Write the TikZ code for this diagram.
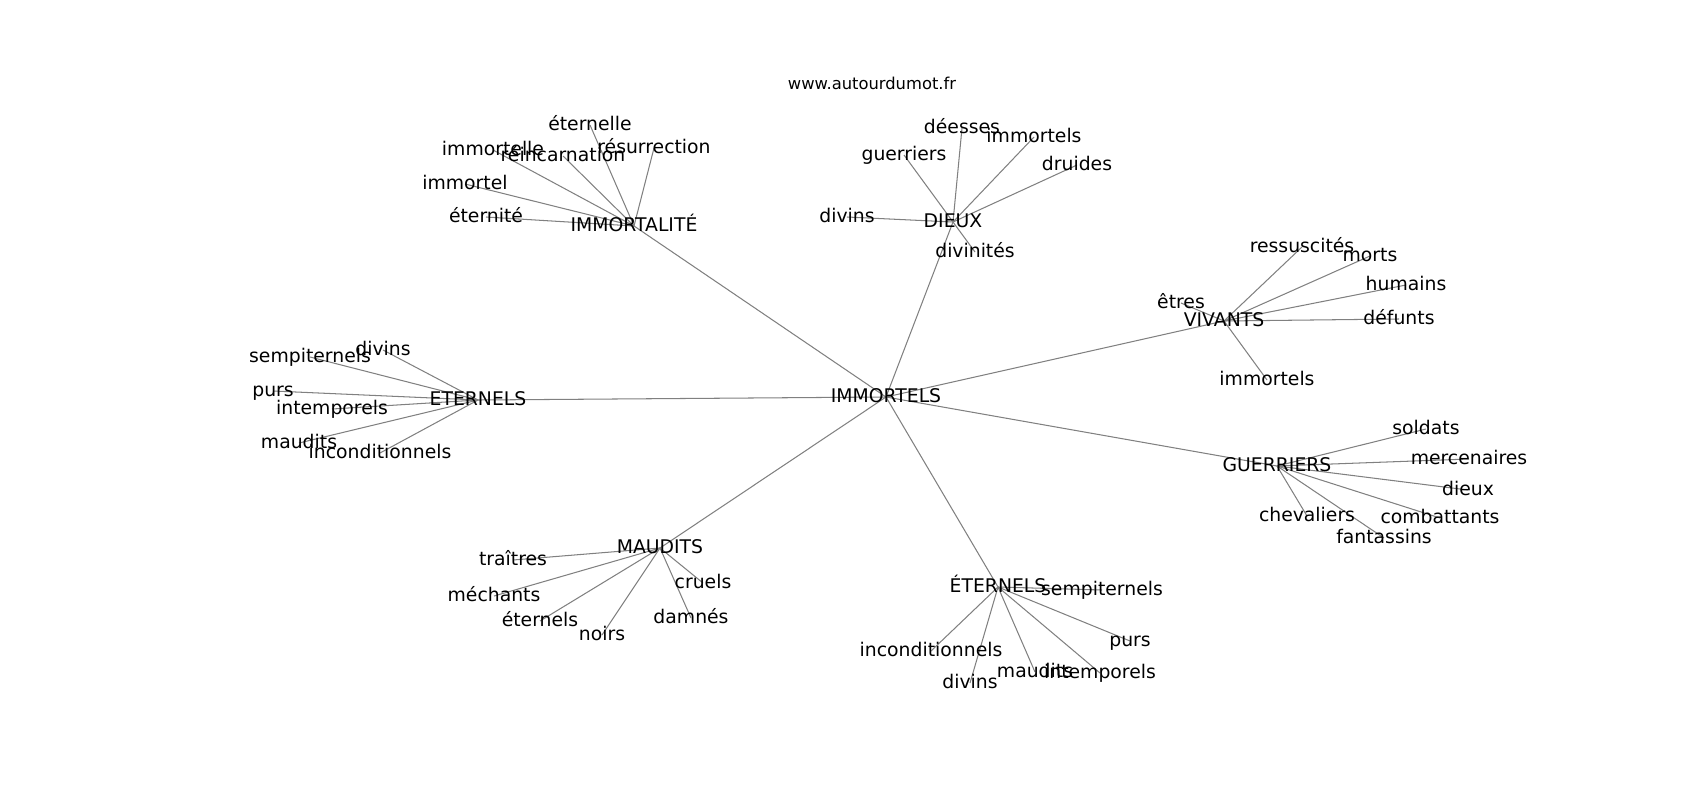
\documentclass[tikz,border=0pt]{standalone}
\usepackage{fontspec}
\setmainfont{DejaVu Sans}
\pgfdeclarelayer{background}
\pgfsetlayers{background,main}
\tikzset{
  lbl/.style={inner sep=0pt, outer sep=0pt, text height=10.29pt, text depth=2.82pt,
    font=\fontsize{13.54pt}{16pt}\selectfont, text=black},
  ttl/.style={inner sep=0pt, font=\fontsize{11.77pt}{14pt}\selectfont, text=black},
  edge/.style={draw=black!50, line width=0.75pt}
}
\begin{document}
\begin{tikzpicture}[x=0.72pt, y=-0.72pt]
\useasboundingbox (0,0) rectangle (1700,800);
\node[ttl] (title) at (872,83) {www.autourdumot.fr};
% hubs
\node[lbl] (c)  at (886,397) {IMMORTELS};
\node[lbl] (ia) at (634,226) {IMMORTALITÉ};
\node[lbl] (di) at (953,222) {DIEUX};
\node[lbl] (vi) at (1224,321) {VIVANTS};
\node[lbl] (et) at (478,400) {ETERNELS};
\node[lbl] (gu) at (1277,466) {GUERRIERS};
\node[lbl] (ma) at (660,548) {MAUDITS};
\node[lbl] (ee) at (998,587) {ÉTERNELS};
% IMMORTALITE
\node[lbl] (ia1) at (590,125) {éternelle};
\node[lbl] (ia2) at (654,148) {résurrection};
\node[lbl] (ia3) at (493,150) {immortelle};
\node[lbl] (ia4) at (563,156) {réincarnation};
\node[lbl] (ia5) at (465,184) {immortel};
\node[lbl] (ia6) at (486,217) {éternité};
% DIEUX
\node[lbl] (di1) at (962,128) {déesses};
\node[lbl] (di2) at (1034,137) {immortels};
\node[lbl] (di3) at (904,155) {guerriers};
\node[lbl] (di4) at (1077,165) {druides};
\node[lbl] (di5) at (847,217) {divins};
\node[lbl] (di6) at (975,252) {divinités};
% VIVANTS
\node[lbl] (vi1) at (1302,247) {ressuscités};
\node[lbl] (vi2) at (1370,256) {morts};
\node[lbl] (vi3) at (1406,285) {humains};
\node[lbl] (vi4) at (1399,319) {défunts};
\node[lbl] (vi5) at (1181,303) {êtres};
\node[lbl] (vi6) at (1267,380) {immortels};
% ETERNELS
\node[lbl] (et1) at (383,350) {divins};
\node[lbl] (et2) at (310,357) {sempiternels};
\node[lbl] (et3) at (273,391) {purs};
\node[lbl] (et4) at (332,409) {intemporels};
\node[lbl] (et5) at (299,443) {maudits};
\node[lbl] (et6) at (380,453) {inconditionnels};
% GUERRIERS
\node[lbl] (gu1) at (1426,429) {soldats};
\node[lbl] (gu2) at (1469,459) {mercenaires};
\node[lbl] (gu3) at (1468,490) {dieux};
\node[lbl] (gu4) at (1307,516) {chevaliers};
\node[lbl] (gu5) at (1440,518) {combattants};
\node[lbl] (gu6) at (1384,538) {fantassins};
% MAUDITS
\node[lbl] (ma1) at (513,560) {traîtres};
\node[lbl] (ma2) at (703,583) {cruels};
\node[lbl] (ma3) at (494,596) {méchants};
\node[lbl] (ma4) at (691,618) {damnés};
\node[lbl] (ma5) at (540,621) {éternels};
\node[lbl] (ma6) at (602,635) {noirs};
% ÉTERNELS
\node[lbl] (ee1) at (1102,590) {sempiternels};
\node[lbl] (ee2) at (1130,641) {purs};
\node[lbl] (ee3) at (931,651) {inconditionnels};
\node[lbl] (ee4) at (1035,672) {maudits};
\node[lbl] (ee5) at (1100,673) {intemporels};
\node[lbl] (ee6) at (970,683) {divins};
\begin{pgfonlayer}{background}
\foreach \h in {ia,di,vi,et,gu,ma,ee}{
  \draw[edge] (c.center) -- (\h.center);
  \foreach \i in {1,...,6}{
    \draw[edge] (\h.center) -- (\h\i.center);
  }
}
\end{pgfonlayer}
\end{tikzpicture}
\end{document}
